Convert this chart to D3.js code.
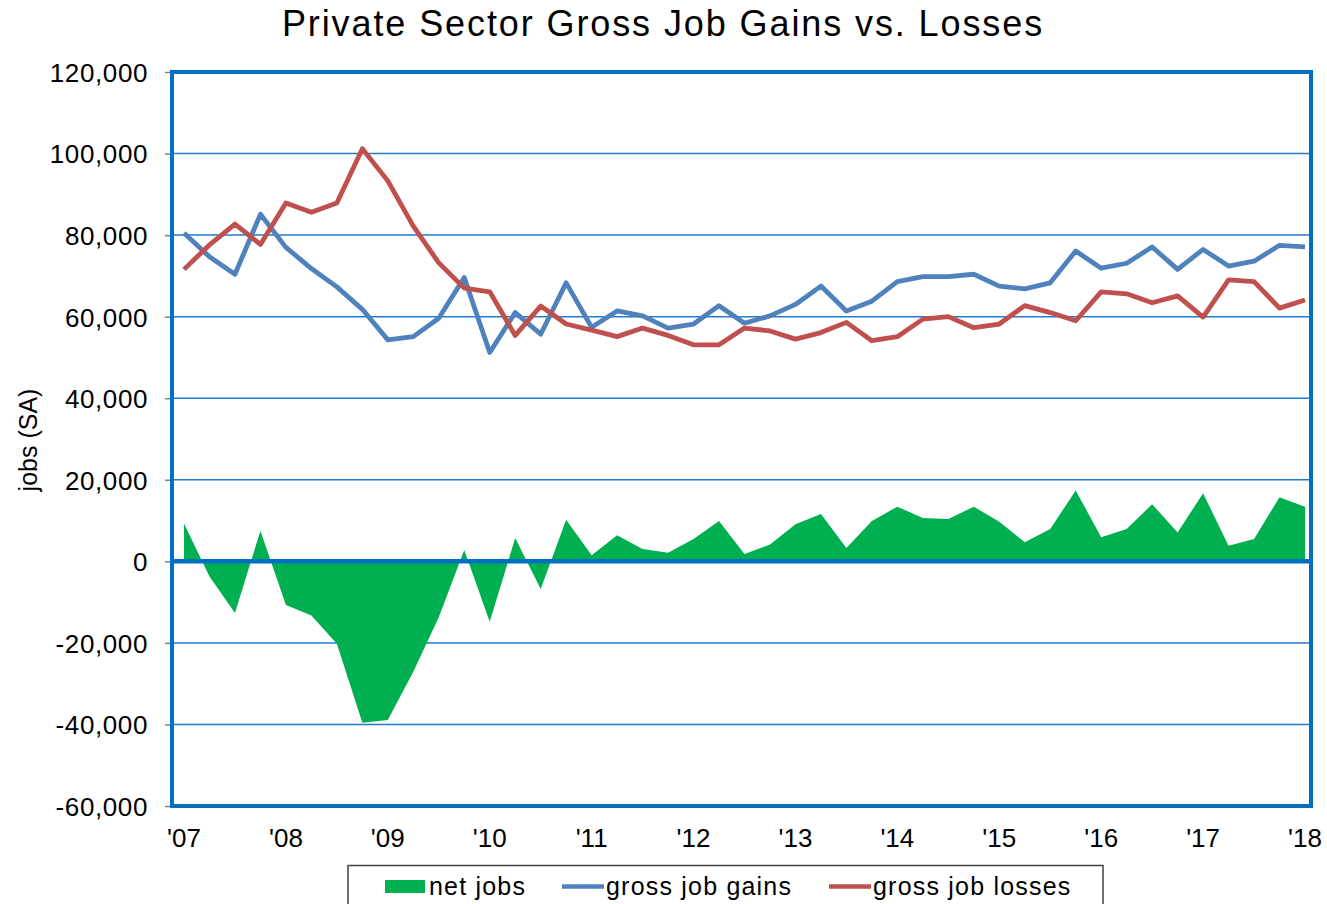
<!DOCTYPE html>
<html>
<head>
<meta charset="utf-8">
<script src="https://cdn.jsdelivr.net/npm/d3@7"></script>
<style>
  body { margin: 0; background: #fff; }
  text { font-family: 'Liberation Sans', Arial, sans-serif; fill: #000; }
</style>
</head>
<body>
<div id="chart"></div>
<script>

// Quarterly data, '07 Q1 to '18 Q1.
const yearLabels = ["'07", "'08", "'09", "'10", "'11", "'12", "'13", "'14", "'15", "'16", "'17", "'18"]

const grossGains = [
  80500, 74700, 70400, 85100, 77000, 71800, 67300, 61800, 54300, 55100, 59600,
  69600, 51200, 61000, 55700, 68300, 57400, 61400, 60200, 57200, 58200, 62700,
  58400, 60200, 63000, 67500, 61400, 63800, 68600, 69800, 69800, 70400, 67500,
  66800, 68300, 76100, 71900, 73100, 77100, 71600, 76500, 72400, 73600, 77500,
  77100
]

const grossLosses = [
  71600, 77600, 82700, 77700, 87900, 85600, 87900, 101200, 93300, 82200, 73200,
  67000, 66100, 55400, 62600, 58200, 56700, 55100, 57200, 55400, 53100, 53100,
  57200, 56500, 54500, 56100, 58600, 54100, 55100, 59400, 60000, 57300, 58200,
  62700, 61000, 59000, 66100, 65600, 63400, 65100, 59900, 69000, 68600, 62100,
  64100
]

const netJobs = [
  9300, -3700, -12700, 7500, -10700, -13300, -20200, -39600, -38900, -27100, -13700,
  2800, -14800, 5700, -6800, 10200, 1500, 6400, 3000, 2100, 5500, 9900,
  1800, 4100, 9100, 11600, 3300, 9900, 13400, 10600, 10400, 13400, 9700,
  4700, 7900, 17400, 5900, 7900, 14000, 7100, 16700, 3800, 5500, 15700,
  13400
]

const yTicks = [-60000, -40000, -20000, 0, 20000, 40000, 60000, 80000, 100000, 120000]

const width = 1327,
      height = 904

const plot = { left: 172, right: 1311, top: 72, bottom: 806 }

const axisBlue = '#0070C0'

const svg = d3.select('#chart')
  .append('svg')
    .attr('width', width)
    .attr('height', height)

// Scales.
const x = d3.scaleLinear()
  .domain([0, grossGains.length - 1])
  .range([184, 1305])

const y = d3.scaleLinear()
  .domain([-60000, 120000])
  .range([plot.bottom, plot.top])

// Title.
svg.append('text')
  .attr('x', 663)
  .attr('y', 36)
  .attr('text-anchor', 'middle')
  .style('font-size', '36px')
  .style('letter-spacing', '1.9px')
  .text('Private Sector Gross Job Gains vs. Losses')

// Gridlines.
svg.append('g')
  .selectAll('line')
  .data(yTicks.filter(function(d) { return d !== 0 && d !== -60000 && d !== 120000 }))
  .enter()
  .append('line')
    .attr('x1', plot.left)
    .attr('x2', plot.right)
    .attr('y1', function(d) { return y(d) })
    .attr('y2', function(d) { return y(d) })
    .attr('stroke', '#1F7DD0')
    .attr('stroke-width', 1.5)

// Y axis ticks and labels (plain hyphen for negatives).
const fmt = d3.format(',')

const yAxis = d3.axisLeft(y)
  .tickValues(yTicks)
  .tickSize(7)
  .tickPadding(17)
  .tickFormat(function(d) { return fmt(d).replace('\u2212', '-') })

svg.append('g')
  .attr('transform', 'translate(' + plot.left + ',0)')
  .call(yAxis)
  .call(function(g) {
    g.select('.domain').remove()
    g.selectAll('line').attr('stroke', '#808080').attr('stroke-width', 1.5)
    g.selectAll('text')
      .style('font-size', '26px')
      .style('letter-spacing', '0.6px')
      .attr('font-family', null)
      .attr('dy', '0.36em')
  })

// Y axis title.
svg.append('text')
  .attr('transform', 'translate(37,440) rotate(-90)')
  .attr('text-anchor', 'middle')
  .style('font-size', '25px')
  .text('jobs (SA)')

// X labels, one per year.
svg.append('g')
  .selectAll('text')
  .data(yearLabels)
  .enter()
  .append('text')
    .attr('x', function(d, i) { return x(i * 4) })
    .attr('y', 847)
    .attr('text-anchor', 'middle')
    .style('font-size', '26px')
    .text(function(d) { return d })

// Net jobs area.
const area = d3.area()
  .x(function(d, i) { return x(i) })
  .y0(y(0))
  .y1(function(d) { return y(d) })

svg.append('path')
  .datum(netJobs)
  .attr('d', area)
  .attr('fill', '#00B050')

// Zero line.
svg.append('line')
  .attr('x1', plot.left)
  .attr('x2', plot.right)
  .attr('y1', y(0))
  .attr('y2', y(0))
  .attr('stroke', axisBlue)
  .attr('stroke-width', 4.5)

// Gains and losses lines.
const line = d3.line()
  .x(function(d, i) { return x(i) })
  .y(function(d) { return y(d) })

svg.append('path')
  .datum(grossGains)
  .attr('d', line)
  .attr('fill', 'none')
  .attr('stroke', '#4F81BD')
  .attr('stroke-width', 4.8)
  .attr('stroke-linejoin', 'round')

svg.append('path')
  .datum(grossLosses)
  .attr('d', line)
  .attr('fill', 'none')
  .attr('stroke', '#C0504D')
  .attr('stroke-width', 4.8)
  .attr('stroke-linejoin', 'round')

// Plot border.
svg.append('rect')
  .attr('x', plot.left)
  .attr('y', plot.top)
  .attr('width', plot.right - plot.left)
  .attr('height', plot.bottom - plot.top)
  .attr('fill', 'none')
  .attr('stroke', axisBlue)
  .attr('stroke-width', 4)

// Legend.
const legend = svg.append('g')

legend.append('rect')
  .attr('x', 348)
  .attr('y', 865.5)
  .attr('width', 755)
  .attr('height', 60)
  .attr('fill', '#fff')
  .attr('stroke', '#404040')
  .attr('stroke-width', 1.5)

const legendItems = [
  { label: 'net jobs', color: '#00B050', type: 'box', x: 385 },
  { label: 'gross job gains', color: '#4F81BD', type: 'line', x: 562 },
  { label: 'gross job losses', color: '#C0504D', type: 'line', x: 829 }
]

legendItems.forEach(function(item) {
  if (item.type === 'box') {
    legend.append('rect')
      .attr('x', item.x)
      .attr('y', 880)
      .attr('width', 40)
      .attr('height', 13)
      .attr('fill', item.color)
  } else {
    legend.append('line')
      .attr('x1', item.x)
      .attr('x2', item.x + 42)
      .attr('y1', 886.5)
      .attr('y2', 886.5)
      .attr('stroke', item.color)
      .attr('stroke-width', 4.5)
  }
  legend.append('text')
    .attr('x', item.x + 44)
    .attr('y', 895)
    .style('font-size', '25px')
    .style('letter-spacing', '1.2px')
    .text(item.label)
})

</script>
</body>
</html>
